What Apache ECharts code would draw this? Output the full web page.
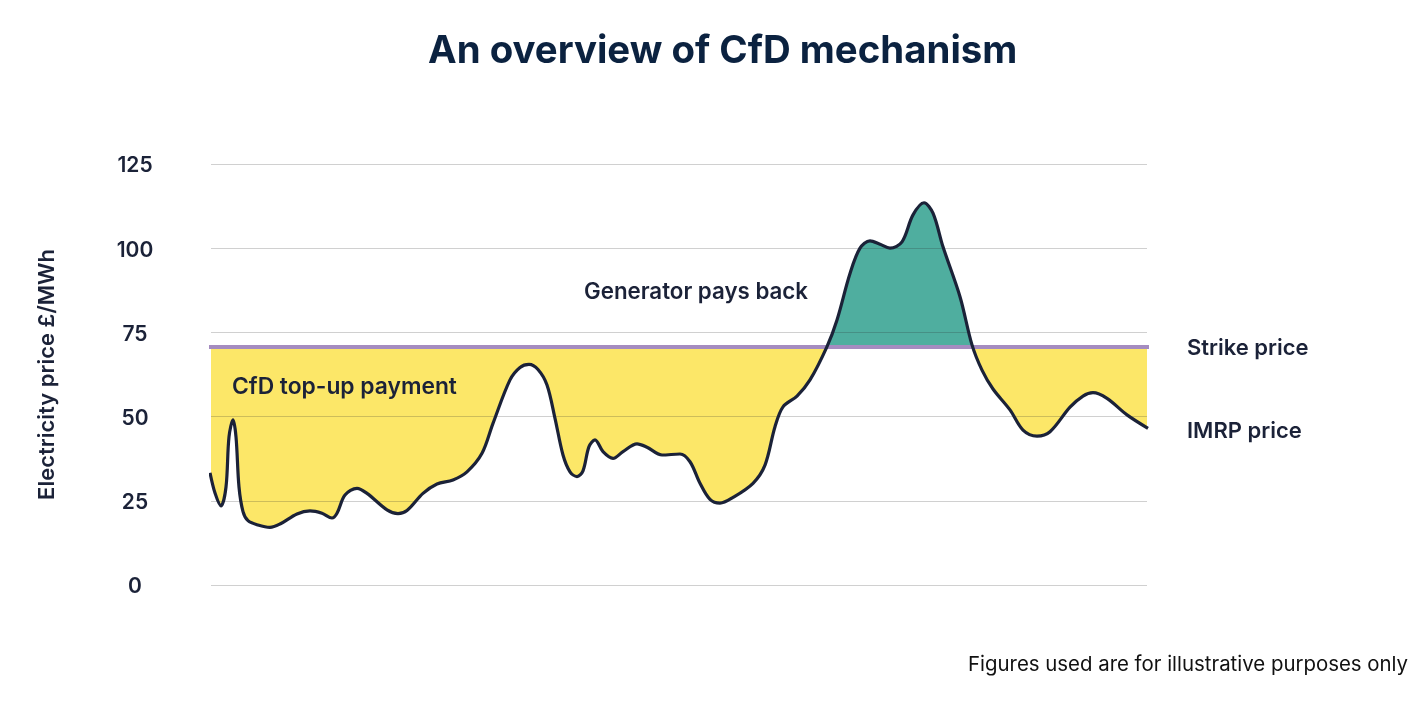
<!DOCTYPE html>
<html><head><meta charset="utf-8">
<style>html,body{margin:0;padding:0;background:#fff}#c{width:1421px;height:703px}</style>
<script src="https://cdn.jsdelivr.net/npm/echarts@6/dist/echarts.min.js"></script>
</head><body><div id="c"></div>
<script>
const strikePrice = 70.7;
const yTicks = [0, 25, 50, 75, 100, 125];
const timeIndex = [-1,4,10,15,18,22,25,28,32,37,47,59,69,86,99,111,121,126,134,146,156,176,187,196,212,226,242,256,271,282,299,309,318,327,336,344,352,359,366,372,378,384,392,402,412,426,436,451,469,479,489,499,509,522,542,554,564,572,586,599,616,626,639,649,659,669,679,691,702,713,722,732,749,761,771,782,799,812,826,839,859,872,882,896,916,937];
const imrpPrice = [33.3,27.3,23.5,29.1,44,49,44,29.1,21.8,19.1,17.8,17.1,18.1,21.1,22,21.3,19.9,21.3,26.7,28.7,27.2,22.3,21.2,22.1,27.2,30,31.2,33.6,39.1,48,60.9,64.6,65.5,64,59.4,49.5,38.6,33.6,32.2,33.9,41.1,43.1,39.6,37.6,39.6,41.9,40.9,38.6,38.9,36.6,30.2,25.4,24.3,26,30.2,35.6,47,52.9,56.1,60.9,70.8,78.7,92.5,100,102.2,101.2,100,101.9,109.9,113.5,110.4,100.4,85.6,71.3,63.8,58.2,52,46,44.2,45.5,52.8,56.1,57.1,55.4,50.5,46.5];
const labels = {title:'An overview of CfD mechanism', yName:'Electricity price £/MWh', topUp:'CfD top-up payment', payBack:'Generator pays back', strike:'Strike price', imrp:'IMRP price', note:'Figures used are for illustrative purposes only'};

const ink = '#1b2238', FONT = 'Inter, "Noto Sans", sans-serif';
const SMOOTH = 0.33;
const imrpData = timeIndex.map((t,i)=>[t, imrpPrice[i]]);
const chart = echarts.init(document.getElementById('c'), null, {renderer:'canvas'});
const txt = (left, top, text, size, weight, color) => ({type:'text', left, top, z:20,
  style:{text, fontSize:size, fontWeight:weight, fontFamily:FONT, fill:color||ink}});
const CLEAR = 'rgba(255,255,255,0)';
chart.setOption({
  animation:false,
  backgroundColor:'#fff',
  grid:{left:211, right:274, top:164, bottom:118},
  xAxis:{type:'value', min:0, max:936, show:false},
  yAxis:{type:'value', min:0, max:125, interval:25, z:5,
    name:labels.yName, nameLocation:'middle', nameGap:153, nameRotate:90,
    nameTextStyle:{fontFamily:FONT, fontSize:22, fontWeight:600, color:ink},
    axisLine:{show:false}, axisTick:{show:false},
    axisLabel:{fontFamily:FONT, fontSize:21, fontWeight:600, color:ink, margin:76, align:'center',
      verticalAlign:'bottom', lineHeight:24, padding:[0,0,-14,0], customValues:yTicks},
    splitLine:{lineStyle:{color:'rgba(40,40,40,0.22)', width:1}}},
  series:[
    {name:'top-up', type:'line', data:imrpData, smooth:SMOOTH, symbol:'none', clip:false, z:2,
      lineStyle:{width:0}, areaStyle:{origin:'end', opacity:1}},
    {name:'pay-back', type:'line', data:imrpData, smooth:SMOOTH, symbol:'none', clip:false, z:2,
      lineStyle:{width:0}, areaStyle:{origin:'start', opacity:1}},
    {name:'Strike price', type:'line', data:[[-3,strikePrice],[939,strikePrice]], symbol:'none', clip:false, z:6,
      lineStyle:{color:'#A58CC0', width:4}},
    {name:'IMRP price', type:'line', data:imrpData, smooth:SMOOTH, symbol:'none', clip:false, z:7,
      lineStyle:{color:'#1b2238', width:3.2}}
  ],
  graphic:[
    txt(428,32,labels.title,38.4,700,'#0b2240'),
    txt(232,376,labels.topUp,22.8,600),
    txt(584,281,labels.payBack,22.3,600),
    txt(1187,337,labels.strike,22,600),
    txt(1187,420,labels.imrp,22,600),
    txt(968,655,labels.note,20.4,400,'#111')
  ]
});
// Fills are split at the strike price through the axis scale.
const yTop = chart.convertToPixel({yAxisIndex:0}, 125);
const yZero = chart.convertToPixel({yAxisIndex:0}, 0);
const yStrike = chart.convertToPixel({yAxisIndex:0}, strikePrice);
const f = (yStrike - yTop) / (yZero - yTop);
const band = (above, below) => new echarts.graphic.LinearGradient(0, yTop, 0, yZero, [
  {offset:0, color:above},{offset:f, color:above},{offset:f, color:below},{offset:1, color:below}], true);
chart.setOption({series:[
  {name:'top-up', areaStyle:{origin:'end', opacity:1, color:band(CLEAR,'#FCE768')}},
  {name:'pay-back', areaStyle:{origin:'start', opacity:1, color:band('#4FAE9F',CLEAR)}}
]});
</script></body></html>
